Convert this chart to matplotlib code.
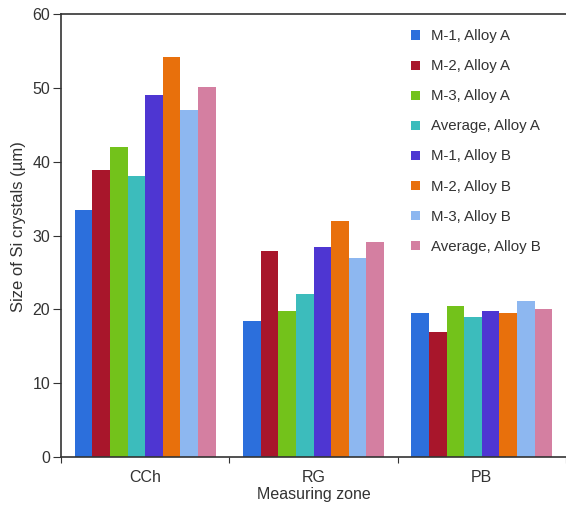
import matplotlib
matplotlib.use("Agg")
import matplotlib.pyplot as plt
import numpy as np

plt.rcParams['font.family'] = ['Liberation Sans', 'DejaVu Sans']

zones = ["CCh", "RG", "PB"]
series_names = ["M-1, Alloy A", "M-2, Alloy A", "M-3, Alloy A", "Average, Alloy A",
                "M-1, Alloy B", "M-2, Alloy B", "M-3, Alloy B", "Average, Alloy B"]
m1_a = [33.4, 18.4, 19.5]
m2_a = [38.9, 27.9, 16.9]
m3_a = [42.0, 19.8, 20.4]
avg_a = [38.1, 22.1, 19.0]
m1_b = [49.1, 28.4, 19.8]
m2_b = [54.2, 32.0, 19.5]
m3_b = [47.0, 26.9, 21.1]
avg_b = [50.1, 29.1, 20.1]
values = [m1_a, m2_a, m3_a, avg_a, m1_b, m2_b, m3_b, avg_b]
colors = ["#2c6fdc", "#a8162b", "#73c21b", "#3cbcbc", "#4e36d2", "#e8700c", "#8db7f0", "#d47fa1"]

fig = plt.figure(figsize=(5.66, 5.05), dpi=100)
ax = fig.add_axes([0.108, 0.095, 0.892, 0.877])

x = np.arange(len(zones))
n = len(values)
w = 0.837 / n
for i, (vals, c, name) in enumerate(zip(values, colors, series_names)):
    ax.bar(x + (i - (n - 1) / 2) * w, vals, width=w, color=c, label=name, linewidth=0)

ax.set_xlim(-0.5, 2.5)
ax.set_ylim(0, 60)
ax.set_yticks(np.arange(0, 61, 10))
ax.set_xticks([-0.5, 0.5, 1.5, 2.5])
ax.set_xticklabels([])
ax.set_xticks(x, minor=True)
ax.set_xticklabels(zones, minor=True)
ax.tick_params(axis='x', which='minor', length=0, pad=9, labelsize=11.5, labelcolor='#333333')
ax.tick_params(axis='x', which='major', length=4, direction='out', color='#333333')
ax.tick_params(axis='y', length=6, direction='out', pad=2, labelsize=11.5, labelcolor='#333333', color='#333333')

for s in ['left', 'bottom', 'top']:
    ax.spines[s].set_color('#333333')
    ax.spines[s].set_linewidth(1.2)
ax.spines['right'].set_visible(False)

ax.set_ylabel("Size of Si crystals (\u00b5m)", fontsize=12, color='#333333')
ax.yaxis.set_label_coords(-0.069, 0.52)
ax.set_xlabel("Measuring zone", fontsize=11.5, color='#333333', labelpad=2)

leg = ax.legend(loc='upper left', bbox_to_anchor=(0.727, 0.942), bbox_transform=fig.transFigure,
                frameon=False, fontsize=10.8, handlelength=0.55, handleheight=0.55,
                handletextpad=0.75, labelspacing=1.07, borderaxespad=0, borderpad=0)
for t in leg.get_texts():
    t.set_color('#333333')

fig.savefig("out.png", dpi=100)
